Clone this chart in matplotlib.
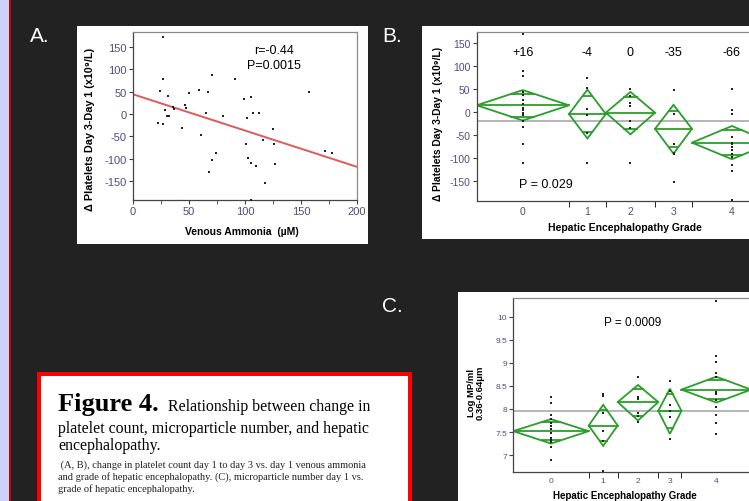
import numpy as np
import matplotlib.pyplot as plt
from matplotlib.patches import Rectangle, Polygon

# ---------------- data ----------------
# Panel A: venous ammonia vs change in platelets
ammonia = [27, 27, 24, 31, 22, 27, 29, 30.5, 32.5, 36, 36.5, 44, 46.5, 47.5, 50,
           59, 61, 65, 67, 70.5, 67.5, 70.5, 74, 80.5, 91.5, 99.5, 105, 101.5,
           107.5, 112.5, 100.5, 102.5, 105.5, 110, 105.5, 117.5, 116.5, 125,
           126, 126.5, 157.5, 171, 178]
plt_change = [171, 79, 51, 40, -20, -22, 10, -5, -4, 16, 12, -32, 21, 13, 47,
              53, -47, 3, 49, 88, -130, -103, -88, -4, 77, 34, 38, -10,
              3, 3, -67, -99, -110, -117, -191, -154, -58, -34,
              -67, -111, 49, -82, -86]
fit_intercept = 44
fit_slope = -0.81

grades = ["0", "1", "2", "3", "4"]

# Panel B: change in platelets by HE grade
b_n = [15, 6, 8, 6, 13]
b_means = [15, -4, -1, -36, -66]
b_upper = [48, 49, 44, 16, -30]
b_lower = [-18, -57, -48, -90, -102]
b_grand = -19.5
b_labels = ["+16", "-4", "0", "-35", "-66"]
b_points = [
    [170, 89, 78, 44, 37, 26, 17, 10, 4, -1, -7, -19, -32, -69, -110],
    [75, 53, 6, -7, -46, -110],
    [51, 35, 19, 14, 14, -20, -34, -111],
    [48, -4, -68, -88, -90, -151],
    [50, 4, -4, -54, -67, -70, -75, -82, -90, -98, -115, -127, -190],
]

# Panel C: log microparticles by HE grade
c_n = [13, 5, 7, 4, 12]
c_means = [7.52, 7.64, 8.15, 7.96, 8.42]
c_upper = [7.78, 8.09, 8.52, 8.44, 8.70]
c_lower = [7.25, 7.20, 7.75, 7.46, 8.14]
c_grand = 7.96
c_points = [
    [8.25, 8.14, 7.86, 7.78, 7.70, 7.63, 7.57, 7.48, 7.38, 7.33, 7.28, 7.18, 6.90],
    [8.32, 8.28, 7.91, 7.53, 7.30, 6.66],
    [8.70, 8.26, 8.22, 7.92, 7.85, 7.72],
    [8.61, 8.40, 8.08, 7.96, 7.83, 7.35],
    [10.34, 9.15, 9.02, 8.79, 8.69, 8.37, 8.32, 8.19, 8.04, 7.86, 7.70, 7.45],
]

# ---------------- styling ----------------
W, H = 749, 502
SANS = ['Liberation Sans', 'DejaVu Sans']
SERIF = ['Liberation Serif', 'DejaVu Serif']
plt.rcParams['font.family'] = SANS
plt.rcParams['axes.unicode_minus'] = False
green = '#2a9e2a'
tick_col = '#524c7c'

fig = plt.figure(figsize=(W / 100, H / 100), dpi=100, facecolor='#222222')

# background layer in pixel coordinates
bg = fig.add_axes([0, 0, 1, 1])
bg.set_xlim(0, W)
bg.set_ylim(H, 0)
bg.axis('off')
bg.add_patch(Rectangle((0, 0), 8.5, H, color='#ccd3fb', lw=0))
bg.add_patch(Rectangle((8.5, 0), 2.7, H, color='#c80000', lw=0))
bg.add_patch(Rectangle((77, 27), 291, 218, color='white', lw=0))
bg.add_patch(Rectangle((422, 27), 340, 213, color='white', lw=0))
bg.add_patch(Rectangle((458, 293), 300, 220, color='white', lw=0))
bg.add_patch(Rectangle((37.3, 373.3), 374.4, 140, color='#ff0000', lw=0))
bg.add_patch(Rectangle((41.3, 377.3), 366.4, 140, color='white', lw=0))

for lab, x, y in [("A.", 30, 36), ("B.", 382, 36), ("C.", 382, 307)]:
    bg.text(x, y, lab, color='white', fontsize=15, va='center', ha='left')

# axis titles
bg.text(90, 129, "Δ Platelets Day 3-Day 1 (x10⁹/L)", rotation=90, fontsize=7.8,
        fontweight='bold', ha='center', va='center', family=SANS)
bg.text(242, 232, "Venous Ammonia  (µM)", fontsize=7.5, fontweight='bold',
        ha='center', va='center')
bg.text(438, 124, "Δ Platelets Day 3-Day 1 (x10⁹/L)", rotation=90, fontsize=7.4,
        fontweight='bold', ha='center', va='center', family=SANS)
bg.text(625, 228, "Hepatic Encephalopathy Grade", fontsize=7.5, fontweight='bold',
        ha='center', va='center')
bg.text(476, 393, "Log MP/ml\n0.36-0.64μm", rotation=90, fontsize=6.8,
        fontweight='bold', ha='center', va='center', multialignment='center',
        linespacing=1.0)
bg.text(625, 496, "Hepatic Encephalopathy Grade", fontsize=7, fontweight='bold',
        ha='center', va='center')

# caption
bg.text(58.3, 410.7, "Figure 4.", family=SERIF, fontsize=19, fontweight='bold',
        va='baseline')
bg.text(167.7, 410.7, "Relationship between change in", family=SERIF,
        fontsize=11.4, va='baseline')
bg.text(58.3, 432.7, "platelet count, microparticle number, and hepatic",
        family=SERIF, fontsize=11.4, va='baseline')
bg.text(58.3, 450.3, "encephalopathy.", family=SERIF, fontsize=11.4, va='baseline')
small = [" (A, B), change in platelet count day 1 to day 3 vs. day 1 venous ammonia",
         "and grade of hepatic encephalopathy. (C), microparticle number day 1 vs.",
         "grade of hepatic encephalopathy."]
for i, line in enumerate(small):
    bg.text(58.3, 467.3 + 12.5 * i, line, family=SERIF, fontsize=7.5,
            va='baseline', color='#222222')


def px_axes(l, t, r, b):
    return fig.add_axes([l / W, 1 - b / H, (r - l) / W, (b - t) / H])


def style_axes(ax, fs):
    for s in ['left', 'bottom']:
        ax.spines[s].set_color('#444444')
    for s in ['top', 'right']:
        ax.spines[s].set_color('#8a8a8a')
    for s in ax.spines.values():
        s.set_linewidth(0.9)
    ax.tick_params(labelsize=fs, labelcolor=tick_col, color='#444444',
                   length=3, width=0.8, pad=1.5)
    ax.set_facecolor('white')


def oneway(ax, n, means, upper, lower, grand, points):
    edges = np.concatenate([[0], np.cumsum(n)])
    centers = (edges[:-1] + edges[1:]) / 2
    ax.axhline(grand, color='#b0b0b0', lw=1.3, zorder=1)
    for i in range(len(n)):
        xl, xr, xc = edges[i], edges[i + 1], centers[i]
        m, t, b = means[i], upper[i], lower[i]
        ax.add_patch(Polygon([(xl, m), (xc, t), (xr, m), (xc, b)], closed=True,
                             fill=False, ec=green, lw=1.3, zorder=2))
        ax.plot([xl, xr], [m, m], color=green, lw=1.3, zorder=2)
        hw = (xr - xl) / 2 * 0.25
        for y in (m + (t - m) * 0.75, m - (m - b) * 0.75):
            ax.plot([xc - hw, xc + hw], [y, y], color=green, lw=1.3, zorder=2)
        ax.scatter([xc] * len(points[i]), points[i], s=2.4, color='#222222',
                   marker='s', lw=0, zorder=3)
    ax.set_xlim(edges[0], edges[-1])
    ax.set_xticks(centers)
    ax.set_xticklabels(grades)
    ax.set_xticks(edges[1:-1], minor=True)
    return centers


# ---------------- panel A ----------------
axA = px_axes(133, 33, 357, 201)
axA.scatter(ammonia, plt_change, s=2.4, color='#222222', marker='s', lw=0, zorder=3)
xfit = np.array([0, 200])
axA.plot(xfit, fit_intercept + fit_slope * xfit, color='#e05a5a', lw=1.4, zorder=2)
axA.set_xlim(0, 200)
axA.set_ylim(-192, 183)
axA.set_xticks([0, 50, 100, 150, 200])
axA.set_xticks([25, 75, 125, 175], minor=True)
axA.set_yticks([-150, -100, -50, 0, 50, 100, 150])
style_axes(axA, 8)
axA.tick_params(axis='x', which='minor', length=3, color='#444444')
axA.text(126, 142, "r=-0.44", fontsize=9, ha='center', va='center')
axA.text(126, 109, "P=0.0015", fontsize=9, ha='center', va='center')

# ---------------- panel B ----------------
B_PX = 6.15
axB = px_axes(476.7, 33, 476.7 + sum(b_n) * B_PX, 201.7)
cB = oneway(axB, b_n, b_means, b_upper, b_lower, b_grand, b_points)
axB.set_ylim(-192, 174)
axB.set_yticks([-150, -100, -50, 0, 50, 100, 150])
style_axes(axB, 7.5)
axB.tick_params(axis='x', which='major', length=0, pad=4)
axB.tick_params(axis='x', which='minor', length=4)
for xc, lab in zip(cB, b_labels):
    axB.text(xc, 131, lab, fontsize=9, ha='center', va='center')
axB.text(11.3, -155, "P = 0.029", fontsize=9, ha='center', va='center')

# ---------------- panel C ----------------
C_PX = 5.8
axC = px_axes(513.3, 299.3, 513.3 + sum(c_n) * C_PX, 472.7)
cC = oneway(axC, c_n, c_means, c_upper, c_lower, c_grand, c_points)
axC.set_ylim(6.64, 10.4)
axC.set_yticks([7, 7.5, 8, 8.5, 9, 9.5, 10])
axC.set_yticklabels(["7", "7.5", "8", "8.5", "9", "9.5", "10"])
style_axes(axC, 6)
axC.tick_params(axis='x', which='major', length=0, pad=4)
axC.tick_params(axis='x', which='minor', length=4)
axC.text(20.5, 9.89, "P = 0.0009", fontsize=8.5, ha='center', va='center')

fig.savefig("out.png", dpi=100, facecolor=fig.get_facecolor())
